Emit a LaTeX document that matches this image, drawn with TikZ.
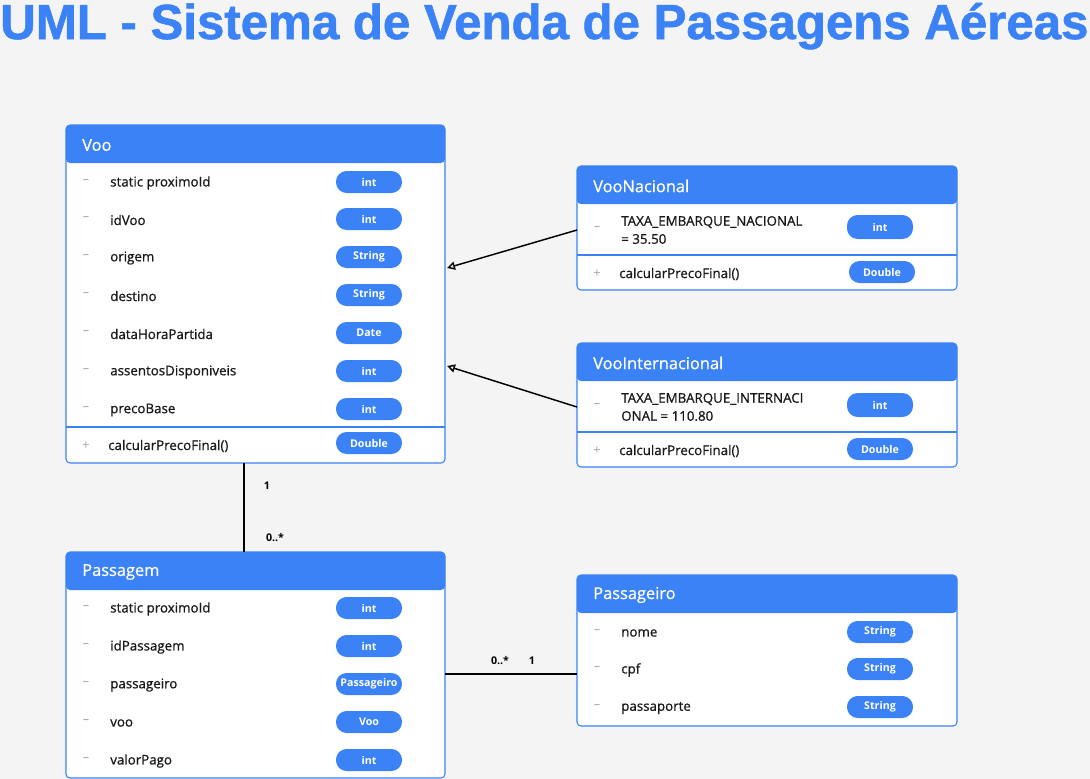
\documentclass[tikz,border=0pt]{standalone}
\usepackage{fontspec}
\setmainfont{Open Sans}
\newfontfamily\attrfont{Open Sans}[FakeBold=0.8]
\newfontfamily\titlefont{Liberation Sans}[FakeBold=1.2]
\usetikzlibrary{arrows.meta}
\definecolor{umlblue}{HTML}{3B82F6}
\definecolor{bggray}{HTML}{F4F4F4}
\definecolor{visgray}{HTML}{A3A3A3}

\begin{document}
\begin{tikzpicture}[x=0.75pt,y=-0.75pt,
  classbox/.style={draw=umlblue, fill=white, rounded corners=3pt, line width=0.8pt,
    anchor=north west, inner sep=0pt, outer sep=0pt,
    path picture={\fill[umlblue] (path picture bounding box.north west)
      rectangle ([yshift=-28.5pt]path picture bounding box.north east);}},
  classname/.style={anchor=west, inner sep=0pt, text=white, font=\attrfont\fontsize{12.3}{14}\selectfont},
  attr/.style={anchor=west, inner sep=0pt, text=black!90, font=\attrfont\fontsize{10}{13.5}\selectfont},
  vis/.style={inner sep=0pt, text=visgray, font=\fontsize{9.5}{11}\selectfont},
  pill/.style={fill=umlblue, text=white, rounded corners=8pt, inner sep=0pt,
    minimum width=49.5pt, minimum height=16.5pt, font=\fontsize{8}{9}\selectfont\bfseries},
  sepline/.style={draw=umlblue, line width=0.8pt},
  mult/.style={inner sep=0pt, font=\fontsize{8}{9}\selectfont\bfseries},
  inherit/.style={-{Triangle[open, length=6pt, width=6pt]}, line width=1.1pt},
  assoc/.style={line width=1.5pt},
  maintitle/.style={anchor=base west, inner sep=0pt, text=umlblue,
    font=\titlefont\bfseries\fontsize{36.9}{40}\selectfont}
]
  \fill[bggray] (0,0) rectangle (1090,779);
  \useasboundingbox (0,0) rectangle (1090,779);
  %
  \node[maintitle] (title) at (0,39) {UML - Sistema de Venda de Passagens Aéreas};
  %
  % Voo
  \node[classbox, minimum width=284.25pt, minimum height=253.5pt] (voo) at (66,125) {};
  \node[classname] (voo-name) at (82,145) {Voo};
  \foreach \y/\nm/\ty [count=\i] in {182/static proximoId/int, 219/idVoo/int,
      257/origem/String, 295/destino/String, 333/dataHoraPartida/Date,
      371/assentosDisponiveis/int, 409/precoBase/int}
  {
    \node[vis] (voo-v\i) at (86,\y) {--};
    \node[attr] (voo-a\i) at (110,\y+1) {\nm};
    \node[pill] (voo-t\i) at (369,\y) {\ty};
  }
  \draw[sepline] (66,427) -- (445,427);
  \node[vis] (voo-v8) at (86,446) {+};
  \node[attr] (voo-m1) at (108,446) {calcularPrecoFinal()};
  \node[pill] (voo-t8) at (369,443) {Double};
  %
  % VooNacional
  \node[classbox, minimum width=285pt, minimum height=93pt] (vooNac) at (577,166) {};
  \node[classname] (vooNac-name) at (593,186) {VooNacional};
  \node[vis] (vooNac-v1) at (597,229) {--};
  \node[attr, align=left] (vooNac-a1) at (621,230) {TAXA\_EMBARQUE\_NACIONAL\\= 35.50};
  \node[pill, minimum height=18pt] (vooNac-t1) at (880,227) {int};
  \draw[sepline] (577,255) -- (957,255);
  \node[vis] (vooNac-v2) at (597,274) {+};
  \node[attr] (vooNac-m1) at (619,274) {calcularPrecoFinal()};
  \node[pill] (vooNac-t2) at (882,272) {Double};
  %
  % VooInternacional
  \node[classbox, minimum width=285pt, minimum height=93pt] (vooInt) at (577,343) {};
  \node[classname] (vooInt-name) at (593,363) {VooInternacional};
  \node[vis] (vooInt-v1) at (597,406) {--};
  \node[attr, align=left] (vooInt-a1) at (621,407) {TAXA\_EMBARQUE\_INTERNACI\\ONAL = 110.80};
  \node[pill, minimum height=18pt] (vooInt-t1) at (880,405) {int};
  \draw[sepline] (577,432) -- (957,432);
  \node[vis] (vooInt-v2) at (597,451) {+};
  \node[attr] (vooInt-m1) at (619,451) {calcularPrecoFinal()};
  \node[pill] (vooInt-t2) at (880,449) {Double};
  %
  % Passagem
  \node[classbox, minimum width=284.25pt, minimum height=169.5pt] (passagem) at (66,552) {};
  \node[classname] (passagem-name) at (82,572) {Passagem};
  \foreach \y/\nm/\ty [count=\i] in {608/static proximoId/int, 646/idPassagem/int,
      684/passageiro/Passageiro, 722/voo/Voo, 760/valorPago/int}
  {
    \node[vis] (passagem-v\i) at (86,\y) {--};
    \node[attr] (passagem-a\i) at (110,\y+1) {\nm};
    \node[pill] (passagem-t\i) at (369,\y) {\ty};
  }
  %
  % Passageiro
  \node[classbox, minimum width=285pt, minimum height=113.25pt] (passageiro) at (577,575) {};
  \node[classname] (passageiro-name) at (593,595) {Passageiro};
  \foreach \y/\nm [count=\i] in {632/nome, 669/cpf, 707/passaporte}
  {
    \node[vis] (passageiro-v\i) at (597,\y) {--};
    \node[attr] (passageiro-a\i) at (621,\y+1) {\nm};
    \node[pill] (passageiro-t\i) at (880,\y) {String};
  }
  %
  % heranca
  \coordinate (voo-in1) at (447,268);
  \coordinate (voo-in2) at (447,366);
  \draw[inherit] (vooNac.west |- vooNac-a1) -- (voo-in1);
  \draw[inherit] (vooInt.west |- vooInt-a1) -- (voo-in2);
  %
  % associacoes
  \draw[assoc] (244,0 |- voo.south) -- (244,0 |- passagem.north);
  \node[mult] (m-voo) at (267,486) {1};
  \node[mult] (m-pass1) at (275,538) {0..*};
  \draw[assoc] (passagem.east |- 0,674) -- (passageiro.west |- 0,674);
  \node[mult] (m-pass2) at (500,661) {0..*};
  \node[mult] (m-passageiro) at (532,661) {1};
\end{tikzpicture}
\end{document}
